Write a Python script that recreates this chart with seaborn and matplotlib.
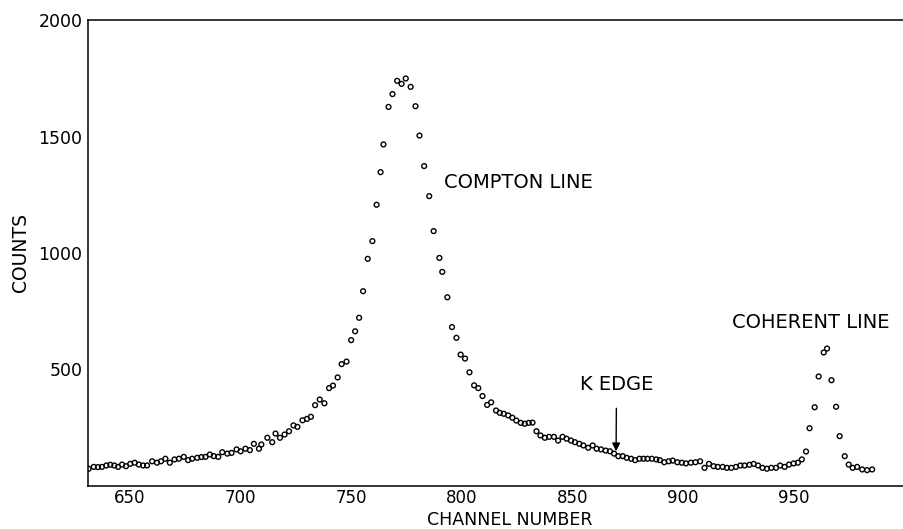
import matplotlib
matplotlib.use("Agg")
import matplotlib.pyplot as plt
import seaborn as sns
import pandas as pd

channel = [631.3, 633.6, 635.5, 637.3, 639.3, 641.1, 642.9, 644.6, 646.4, 648.2,
           650.1, 652.1, 654.0, 655.9, 657.7, 660.0, 662.2, 664.0, 666.0, 668.0,
           670.1, 672.1, 674.3, 676.3, 678.1, 680.4, 682.3, 684.1, 686.1, 687.9,
           689.9, 691.7, 694.0, 695.9, 698.2, 700.0, 702.2, 704.2, 706.0, 708.3,
           709.4, 712.1, 714.3, 715.8, 717.8, 719.9, 721.9, 723.9, 725.7, 728.0,
           730.0, 731.8, 733.7, 735.8, 737.9, 740.0, 741.8, 743.9, 745.7, 747.9,
           750.0, 751.8, 753.6, 755.4, 757.5, 759.6, 761.5, 763.3, 764.6, 766.9,
           768.7, 770.8, 772.8, 774.7, 776.9, 779.1, 780.9, 783.0, 785.3, 787.3,
           789.9, 791.2, 793.5, 795.6, 797.6, 799.5, 801.5, 803.5, 805.6, 807.5,
           809.4, 811.5, 813.3, 815.5, 817.2, 819.0, 821.0, 822.9, 824.7, 826.7,
           828.5, 830.3, 832.0, 833.8, 835.6, 837.6, 839.5, 841.7, 843.6, 845.6,
           847.4, 849.4, 851.2, 853.2, 855.0, 857.2, 859.2, 861.0, 863.0, 865.1,
           867.0, 868.9, 870.8, 872.8, 874.6, 876.6, 878.4, 880.4, 882.2, 884.0,
           886.0, 888.0, 889.6, 891.6, 893.6, 895.4, 897.5, 899.5, 901.4, 903.6,
           905.7, 907.8, 909.8, 911.8, 913.9, 915.8, 918.0, 919.9, 921.9, 924.0,
           926.0, 927.9, 930.1, 932.0, 934.0, 936.0, 938.0, 940.0, 942.1, 944.0,
           946.0, 948.0, 950.1, 952.0, 953.8, 955.7, 957.3, 959.6, 961.4, 963.7,
           965.2, 967.2, 969.3, 970.9, 973.2, 975.0, 976.8, 978.8, 981.1, 983.3, 985.6]

counts = [74, 82, 81, 82, 88, 91, 88, 82, 92, 85,
          95, 100, 92, 88, 88, 106, 100, 106, 117, 100,
          114, 117, 125, 111, 117, 121, 124, 125, 135, 128,
          125, 145, 139, 142, 157, 149, 160, 154, 181, 160,
          178, 207, 188, 225, 207, 221, 235, 260, 254, 282,
          288, 297, 347, 371, 355, 420, 431, 466, 523, 534,
          626, 664, 722, 836, 975, 1051, 1207, 1347, 1466, 1627,
          1682, 1739, 1726, 1749, 1713, 1630, 1504, 1373, 1244, 1094,
          979, 919, 810, 682, 636, 564, 547, 488, 432, 420,
          386, 348, 359, 324, 314, 310, 303, 293, 281, 271,
          267, 271, 272, 235, 217, 207, 211, 211, 195, 211,
          203, 195, 188, 181, 174, 164, 174, 160, 157, 152,
          149, 139, 128, 128, 121, 117, 111, 117, 117, 117,
          117, 114, 111, 102, 106, 109, 102, 100, 97, 100,
          102, 106, 78, 95, 85, 82, 82, 78, 78, 82,
          88, 88, 91, 95, 88, 78, 74, 78, 78, 88,
          82, 92, 97, 100, 114, 148, 248, 338, 470, 573,
          590, 454, 340, 214, 128, 92, 78, 82, 71, 68, 71]

x_ticks = [650, 700, 750, 800, 850, 900, 950]
y_ticks = [500, 1000, 1500, 2000]
x_label = "CHANNEL NUMBER"
y_label = "COUNTS"

df = pd.DataFrame({"channel": channel, "counts": counts})

sns.set_style("white")
plt.rcParams["font.family"] = ["DejaVu Sans"]
plt.rcParams["text.color"] = "black"
plt.rcParams["axes.labelcolor"] = "black"

fig = plt.figure(figsize=(9.04, 5.29), dpi=100)
ax = fig.add_axes([88 / 904, 43 / 529, 816 / 904, 466 / 529])

sns.scatterplot(data=df, x="channel", y="counts", ax=ax, marker="o", s=12,
                facecolor="none", edgecolor="black", linewidth=1.0, legend=False)

ax.set_xlim(631, 1000)
ax.set_ylim(0, 2000)
ax.set_xticks(x_ticks)
ax.set_yticks(y_ticks)
ax.tick_params(direction="in", length=8, width=1, color="black",
               labelsize=12.5, labelcolor="black")
ax.tick_params(axis="x", labelsize=12, pad=2)
ax.tick_params(axis="y", pad=4)

for side in ["left", "top", "bottom"]:
    ax.spines[side].set_visible(True)
    ax.spines[side].set_color("black")
    ax.spines[side].set_linewidth(1.1)
ax.spines["right"].set_visible(False)

ax.set_xlabel(x_label, fontsize=12.5, va="bottom")
ax.set_ylabel(y_label, fontsize=13.5)
ax.xaxis.set_label_coords(0.517, -0.0915)
ax.yaxis.set_label_coords(-0.071, 0.5)

ax.text(791.8, 1302, "COMPTON LINE", fontsize=14, ha="left", va="center")
ax.text(922, 700, "COHERENT LINE", fontsize=14, ha="left", va="center")
ax.annotate("K EDGE", xy=(869.8, 149), xytext=(870, 436), fontsize=14,
            ha="center", va="center",
            arrowprops=dict(arrowstyle="-|>", color="black", lw=1.0,
                            mutation_scale=12, shrinkA=8, shrinkB=0))

fig.savefig("out.png", dpi=100)
